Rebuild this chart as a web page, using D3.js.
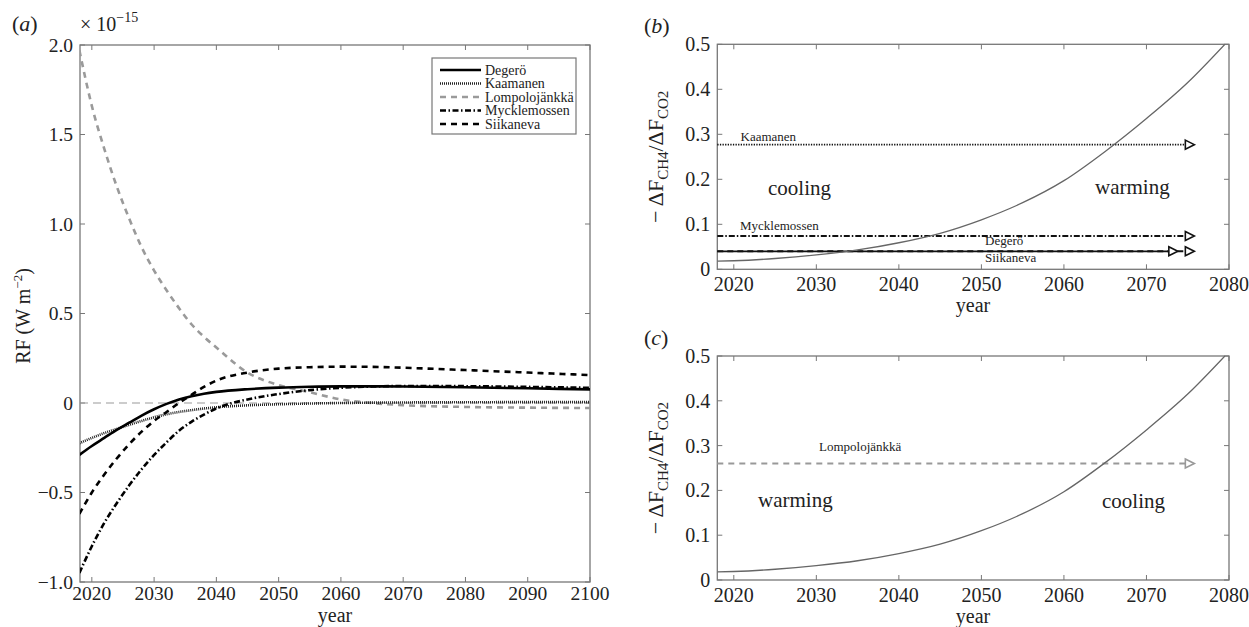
<!DOCTYPE html>
<html><head><meta charset="utf-8">
<script src="https://cdn.jsdelivr.net/npm/d3@7"></script>
<style>
body{margin:0;background:#fff;}
svg, text, tspan{font-family:"Liberation Serif","Times New Roman",serif;}
text{fill:#222;}
</style></head>
<body><svg id="c" width="1249" height="627" font-family="Liberation Serif, serif"></svg>
<script>
// ---------- Panel (a) data: RF (×10^-15 W m^-2) ----------
const years = [2018,2020,2022,2024,2026,2028,2030,2032,2034,2036,2038,2040,2045,2050,2055,2060,2065,2070,2080,2090,2100];
const sites = ["Degerö","Kaamanen","Lompolojänkkä","Mycklemossen","Siikaneva"];
const degero       = [-0.29,-0.24,-0.195,-0.15,-0.11,-0.07,-0.035,-0.005,0.02,0.038,0.052,0.062,0.077,0.086,0.091,0.093,0.093,0.092,0.088,0.082,0.076];
const kaamanen     = [-0.225,-0.195,-0.168,-0.145,-0.122,-0.10,-0.08,-0.063,-0.05,-0.04,-0.031,-0.024,-0.013,-0.007,-0.003,0.0,0.002,0.003,0.004,0.005,0.005];
const lompolo      = [1.97,1.66,1.42,1.21,1.03,0.87,0.74,0.63,0.53,0.44,0.37,0.31,0.17,0.10,0.06,0.02,0.0,-0.012,-0.022,-0.026,-0.028];
const mycklemossen = [-0.95,-0.80,-0.67,-0.56,-0.46,-0.37,-0.29,-0.22,-0.155,-0.105,-0.065,-0.03,0.02,0.05,0.072,0.085,0.092,0.095,0.094,0.09,0.085];
const siikaneva    = [-0.62,-0.50,-0.40,-0.31,-0.23,-0.16,-0.10,-0.05,0.0,0.045,0.09,0.125,0.17,0.192,0.20,0.203,0.202,0.197,0.184,0.17,0.156];
const aXTicks = [2020,2030,2040,2050,2060,2070,2080,2090,2100];
const aYTicks = [-1.0,-0.5,0,0.5,1.0,1.5,2.0];
const aYLabels = ["\u22121.0","\u22120.5","0","0.5","1.0","1.5","2.0"];

// ---------- Panels (b), (c) data ----------
const thrYears  = [2018,2020,2025,2030,2035,2040,2045,2050,2055,2060,2065,2070,2075,2079.5];
const thrValues = [0.018,0.019,0.024,0.032,0.043,0.059,0.08,0.11,0.148,0.197,0.262,0.335,0.415,0.5];
const bSites   = ["Kaamanen","Mycklemossen","Siikaneva","Degerö"];
const bRatios  = [0.277,0.074,0.040,0.040];
const bArrowTo = [2075.8,2075.8,2075.8,2073.8];
const cSites   = ["Lompolojänkkä"];
const cRatios  = [0.26];
const cArrowTo = [2075.8];
const bcXTicks = [2020,2030,2040,2050,2060,2070,2080];
const bcYTicks = [0,0.1,0.2,0.3,0.4,0.5];
const bcYLabels = ["0","0.1","0.2","0.3","0.4","0.5"];

const svg = d3.select("#c");
const axisCol = "#777";
const SERIF = "Liberation Serif, Times New Roman, serif";

function frame(g, x, y, xt, yt, ylab, tickFont, xLabBase){
  const [x0,x1] = x.range(), [y0,y1] = y.range(); // y0 bottom, y1 top
  g.append("rect").attr("x",x0).attr("y",y1).attr("width",x1-x0).attr("height",y0-y1)
    .attr("fill","none").attr("stroke",axisCol).attr("stroke-width",1.3);
  xt.forEach(t=>{
    const px = x(t);
    g.append("line").attr("x1",px).attr("x2",px).attr("y1",y0).attr("y2",y0-5).attr("stroke",axisCol);
    g.append("line").attr("x1",px).attr("x2",px).attr("y1",y1).attr("y2",y1+5).attr("stroke",axisCol);
    g.append("text").attr("x",px).attr("y",xLabBase).attr("text-anchor","middle")
      .attr("font-family",SERIF).attr("font-size",tickFont).text(t);
  });
  yt.forEach((t,i)=>{
    const py = y(t);
    g.append("line").attr("x1",x0).attr("x2",x0+5).attr("y1",py).attr("y2",py).attr("stroke",axisCol);
    g.append("line").attr("x1",x1).attr("x2",x1-5).attr("y1",py).attr("y2",py).attr("stroke",axisCol);
    g.append("text").attr("x",x0-7).attr("y",py).attr("dy","0.35em").attr("text-anchor","end")
      .attr("font-family",SERIF).attr("font-size",tickFont).text(ylab[i]);
  });
}

// ================= Panel (a) =================
const ga = svg.append("g");
const xa = d3.scaleLinear().domain([2018.1,2100]).range([80,590]);
const ya = d3.scaleLinear().domain([-1,2]).range([582,45]);
frame(ga, xa, ya, aXTicks, aYTicks, aYLabels, 19.5, 600);

ga.append("line").attr("x1",xa(2018.1)).attr("x2",xa(2100)).attr("y1",ya(0)).attr("y2",ya(0))
  .attr("stroke","#999").attr("stroke-width",1.1).attr("stroke-dasharray","8,5");

const styles = {
  "Degerö":        {col:"#000", dash:null, w:2.6},
  "Kaamanen":      {col:"#222", dash:"1,1", w:2.6},
  "Lompolojänkkä": {col:"#9a9a9a", dash:"6,5", w:2.6},
  "Mycklemossen":  {col:"#000", dash:"6,2.5,1.5,2.5", w:2.6},
  "Siikaneva":     {col:"#000", dash:"6,5", w:2.6}
};
const seriesVals = [degero,kaamanen,lompolo,mycklemossen,siikaneva];
const lineA = d3.line().x(d=>xa(d[0])).y(d=>ya(d[1])).curve(d3.curveMonotoneX);
ga.append("clipPath").attr("id","clipA").append("rect")
  .attr("x",80).attr("y",45).attr("width",510).attr("height",537);
const order = [2,1,0,3,4];
order.forEach(i=>{
  const s = styles[sites[i]];
  const pts = years.map((yr,j)=>[yr, seriesVals[i][j]]);
  ga.append("path").attr("d",lineA(pts)).attr("fill","none").attr("clip-path","url(#clipA)")
    .attr("stroke",s.col).attr("stroke-width",s.w).attr("stroke-dasharray",s.dash);
});

// legend
const lg = ga.append("g");
lg.append("rect").attr("x",432).attr("y",58).attr("width",144).attr("height",76)
  .attr("fill","#fff").attr("stroke",axisCol).attr("stroke-width",1.2);
sites.forEach((name,i)=>{
  const yy = 70 + i*13.5;
  const s = styles[name];
  lg.append("line").attr("x1",440).attr("x2",481).attr("y1",yy).attr("y2",yy)
    .attr("stroke",s.col).attr("stroke-width",s.w).attr("stroke-dasharray",s.dash);
  lg.append("text").attr("x",485).attr("y",yy).attr("dy","0.33em").attr("font-family",SERIF)
    .attr("font-size",14).text(name);
});

// labels (a)
ga.append("text").attr("x",335).attr("y",622).attr("text-anchor","middle").attr("font-family",SERIF)
  .attr("font-size",20).text("year");
const rfl = ga.append("text").attr("transform","translate(30,316) rotate(-90)")
  .attr("text-anchor","middle").attr("font-family",SERIF).attr("font-size",20);
rfl.append("tspan").text("RF (W m");
rfl.append("tspan").attr("font-size",13).attr("dy",-8).text("\u22122");
rfl.append("tspan").attr("dy",8).text(")");
const pa = ga.append("text").attr("x",12).attr("y",31).attr("font-family",SERIF).attr("font-size",22);
pa.append("tspan").text("(");
pa.append("tspan").attr("font-style","italic").text("a");
pa.append("tspan").text(")");
const ex = ga.append("text").attr("x",80).attr("y",31).attr("font-family",SERIF).attr("font-size",20);
ex.append("tspan").text("\u00d7 10");
ex.append("tspan").attr("font-size",14).attr("dy",-9).text("\u221215");

// ================= Panels (b), (c) =================
const xb = d3.scaleLinear().domain([2018,2080]).range([717.3,1229]);
function ratioPanel(top, bottom, letter, hSites, hVals, hEnd, hStyle, hLabelPos, regionText){
  const g = svg.append("g");
  const y = d3.scaleLinear().domain([0,0.5]).range([bottom, top]);
  frame(g, xb, y, bcXTicks, bcYTicks, bcYLabels, 20, bottom+22);
  g.append("clipPath").attr("id","clip"+letter).append("rect")
    .attr("x",717.3).attr("y",top).attr("width",1229-717.3).attr("height",bottom-top);
  hSites.forEach((name,i)=>{
    const st = hStyle[name];
    const yy = y(hVals[i]);
    const tip = xb(hEnd[i]);
    g.append("line").attr("x1",xb(2018)).attr("x2",tip-8).attr("y1",yy).attr("y2",yy)
      .attr("stroke",st.col).attr("stroke-width",st.w).attr("stroke-dasharray",st.dash);
    g.append("path").attr("d",`M${tip-9},${yy-4.5} L${tip},${yy} L${tip-9},${yy+4.5} Z`)
      .attr("fill","#fff").attr("stroke",st.col).attr("stroke-width",1.6);
    const lp = hLabelPos[name];
    g.append("text").attr("x",lp[0]).attr("y",lp[1]).attr("font-family",SERIF).attr("font-size",13).text(name);
  });
  const line = d3.line().x(d=>xb(d[0])).y(d=>y(d[1])).curve(d3.curveMonotoneX);
  g.append("path").attr("d",line(thrYears.map((t,i)=>[t,thrValues[i]])))
    .attr("fill","none").attr("stroke","#666").attr("stroke-width",1.3).attr("clip-path","url(#clip"+letter+")");
  regionText.forEach(r=>{
    g.append("text").attr("x",r[0]).attr("y",r[1]).attr("font-family",SERIF).attr("font-size",21).text(r[2]);
  });
  g.append("text").attr("x",973).attr("y",bottom+43).attr("text-anchor","middle").attr("font-family",SERIF)
    .attr("font-size",20).text("year");
  const yl = g.append("text").attr("transform",`translate(663,${(top+bottom)/2}) rotate(-90)`)
    .attr("text-anchor","middle").attr("font-family",SERIF).attr("font-size",22);
  yl.append("tspan").text("\u2212 \u0394F");
  yl.append("tspan").attr("font-size",15).attr("dy",5).text("CH4");
  yl.append("tspan").attr("dy",-5).text("/\u0394F");
  yl.append("tspan").attr("font-size",15).attr("dy",5).text("CO2");
  const pl = g.append("text").attr("x",644).attr("y",top-11).attr("font-family",SERIF).attr("font-size",22);
  pl.append("tspan").text("(");
  pl.append("tspan").attr("font-style","italic").text(letter);
  pl.append("tspan").text(")");
}

const bStyle = {
  "Kaamanen":     {col:"#111", dash:"1.3,1.3", w:1.8},
  "Mycklemossen": {col:"#111", dash:"6,2,1.5,2", w:2},
  "Siikaneva":    {col:"#111", dash:"6,4", w:2},
  "Degerö":       {col:"#111", dash:null, w:1.8}
};
const bLabelPos = {
  "Kaamanen":[740.5,141], "Mycklemossen":[740,230], "Degerö":[985,245], "Siikaneva":[985,262]
};
ratioPanel(44.3, 269.3, "b", bSites, bRatios, bArrowTo, bStyle, bLabelPos,
  [[768,195,"cooling"],[1095,194,"warming"]]);

const cStyle = {"Lompolojänkkä": {col:"#999", dash:"6,5", w:2}};
const cLabelPos = {"Lompolojänkkä":[819,451]};
ratioPanel(356, 580, "c", cSites, cRatios, cArrowTo, cStyle, cLabelPos,
  [[758,507,"warming"],[1102,508,"cooling"]]);
</script></body></html>
